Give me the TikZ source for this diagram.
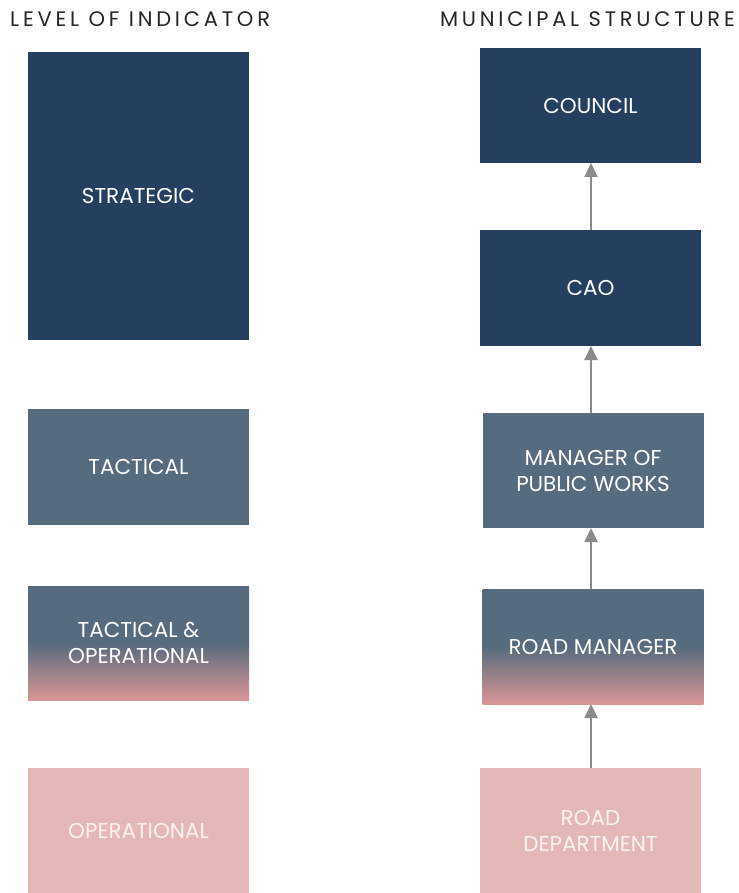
\documentclass[tikz,border=0pt]{standalone}
\usepackage{fontspec}
\setmainfont{Poppins}
\newfontfamily\headfont[LetterSpace=18]{Poppins}
\usetikzlibrary{arrows.meta, positioning}
\definecolor{Navy}{HTML}{253F5E}
\definecolor{Slate}{HTML}{566B7D}
\definecolor{Blush}{HTML}{E5B8B8}
\definecolor{Rose}{HTML}{D99696}
\definecolor{ArrowGray}{HTML}{8A8A8A}
\definecolor{PaleText}{HTML}{FBF1F1}
\pgfdeclareverticalshading{slatetorose}{100bp}{color(0bp)=(Rose); color(25bp)=(Rose); color(50bp)=(Slate); color(100bp)=(Slate)}

\begin{document}
\begin{tikzpicture}[
    x=1pt, y=-1pt,
    level/.style={rectangle, minimum width=221pt, minimum height=115pt, inner sep=0pt,
                  outer sep=0pt, align=center, font=\fontsize{21.5}{26}\selectfont, text=white},
    strategic/.style={level, fill=Navy},
    tactical/.style={level, fill=Slate},
    mixed/.style={level, shading=slatetorose},
    operational/.style={level, fill=Blush, text=PaleText},
    heading/.style={font=\headfont\fontsize{21}{24}\selectfont, text=black!85, inner sep=0pt},
    uparrow/.style={draw=ArrowGray, line width=2pt, -{Triangle[length=14pt, width=13pt]}}
]
    \useasboundingbox (0,0) rectangle (738,893);

    % Headings
    \node[heading, anchor=base west] (lefthead) at (10,27) {LEVEL OF INDICATOR};
    \node[heading, anchor=base east] (righthead) at (735,27) {MUNICIPAL STRUCTURE};

    % Level of indicator
    \node[strategic, minimum height=288pt, anchor=north west] (strat) at (28,52) {STRATEGIC};
    \node[tactical, minimum height=116pt, below=69pt of strat] (tact) {TACTICAL};
    \node[mixed, minimum height=114pt, below=61pt of tact] (tactop) {TACTICAL \&\\OPERATIONAL};
    \node[operational, minimum height=125pt, below=68pt of tactop] (oper) {OPERATIONAL};

    % Municipal structure
    \node[strategic, anchor=north west] (council) at (480,48) {COUNCIL};
    \node[strategic, minimum height=116pt, below=67pt of council] (cao) {CAO};
    \node[tactical, below=67pt of cao, xshift=2.5pt] (pubworks) {MANAGER OF\\PUBLIC WORKS};
    \node[mixed, below=61pt of pubworks] (roadmgr) {ROAD MANAGER};
    \node[operational, minimum height=125pt, below=64pt of roadmgr, xshift=-2.5pt] (roaddept) {ROAD\\DEPARTMENT};

    % Reporting lines
    \draw[uparrow] (roaddept.north -| 591,0) -- (roadmgr.south -| 591,0);
    \draw[uparrow] (roadmgr.north -| 591,0) -- (pubworks.south -| 591,0);
    \draw[uparrow] (pubworks.north -| 591,0) -- (cao.south -| 591,0);
    \draw[uparrow] (cao.north -| 591,0) -- (council.south -| 591,0);
\end{tikzpicture}
\end{document}
